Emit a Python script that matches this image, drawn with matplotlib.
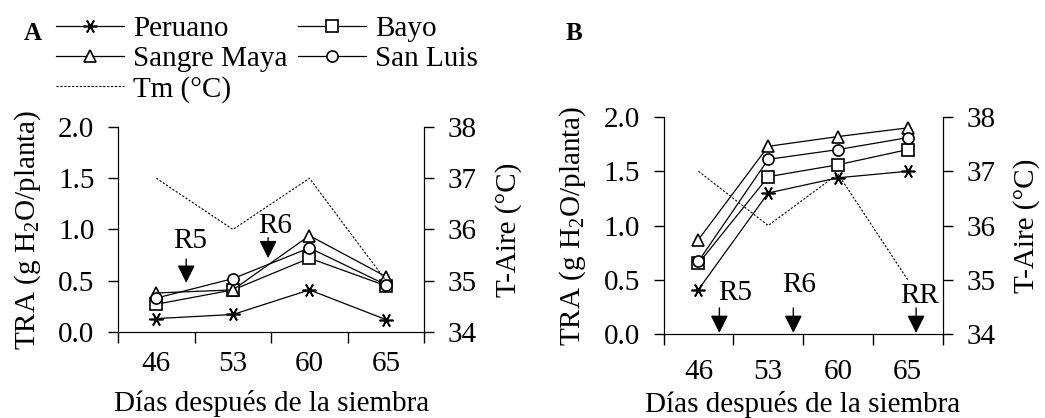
import numpy as np
import matplotlib
matplotlib.use('Agg')
import matplotlib.pyplot as plt
from matplotlib.lines import Line2D

plt.rcParams['font.family'] = ['Liberation Serif', 'DejaVu Serif']
plt.rcParams['mathtext.fontset'] = 'custom'
plt.rcParams['mathtext.rm'] = 'Liberation Serif'

# Datos
dias = ['46', '53', '60', '65']
variedades = ['Peruano', 'Bayo', 'Sangre Maya', 'San Luis']
marcadores = {'Peruano': (6, 2, 90), 'Bayo': 's', 'Sangre Maya': '^', 'San Luis': 'o'}

tra_a = {
    'Peruano': [0.13, 0.17, 0.41, 0.12],
    'Bayo': [0.27, 0.41, 0.72, 0.45],
    'Sangre Maya': [0.38, 0.41, 0.94, 0.54],
    'San Luis': [0.33, 0.52, 0.82, 0.46],
}
tm_a = [37.0, 36.0, 37.0, 35.0]

tra_b = {
    'Peruano': [0.41, 1.30, 1.44, 1.50],
    'Bayo': [0.65, 1.45, 1.56, 1.70],
    'Sangre Maya': [0.87, 1.73, 1.82, 1.90],
    'San Luis': [0.67, 1.61, 1.70, 1.81],
}
tm_b = [37.0, 36.0, 36.95, 35.0]

# etapas fenológicas: (nombre, x flecha, punta, cola, x texto, y texto)
etapas_a = [('R5', 0.89, 0.48, 0.71, 0.94, 0.76), ('R6', 1.96, 0.72, 0.92, 2.05, 0.91)]
etapas_b = [('R5', 0.80, 0.01, 0.24, 1.02, 0.26), ('R6', 1.86, 0.01, 0.24, 1.95, 0.33),
            ('RR', 3.62, 0.01, 0.24, 3.67, 0.23)]

FS = 21
xs = np.arange(len(dias)) + 0.5


def dibujar_panel(ax, tra, tm, etapas, pad_x, pad_lbl):
    for v in variedades:
        ax.plot(xs, tra[v], color='black', lw=0.9, marker=marcadores[v],
                ms=8 if v != 'Peruano' else 10, mfc='white', mec='black', mew=1.2, zorder=3)
    ax.set_xlim(0, 4)
    ax.set_ylim(0, 2)
    ax.set_yticks([0, 0.5, 1.0, 1.5, 2.0])
    ax.set_yticklabels(['0.0', '0.5', '1.0', '1.5', '2.0'])
    ax.set_xticks([0, 1, 2, 3, 4])
    ax.set_xticklabels([])
    ax.set_xticks(xs, minor=True)
    ax.set_xticklabels(dias, minor=True)
    ax.tick_params(axis='x', which='minor', length=0, pad=pad_x, labelsize=FS)
    ax.tick_params(axis='x', which='major', length=8, width=1, direction='out')
    ax.tick_params(axis='y', length=7, width=1, pad=10, labelsize=FS)
    ax.spines['top'].set_visible(False)
    ax.set_ylabel('TRA (g H$_2$O/planta)', fontsize=FS, labelpad=11)
    ax.set_xlabel('Días después de la siembra', fontsize=FS, labelpad=pad_lbl)

    ax2 = ax.twinx()
    ax2.plot(xs, tm, color='black', lw=0.8, ls=(0, (2, 1.5)), zorder=2)
    ax2.set_ylim(34, 38)
    ax2.set_yticks([34, 35, 36, 37, 38])
    ax2.tick_params(axis='y', length=7, width=1, pad=10, labelsize=FS)
    ax2.spines['top'].set_visible(False)
    ax2.set_ylabel('T-Aire (°C)', fontsize=FS, labelpad=13)

    for nombre, x, punta, cola, xtxt, ytxt in etapas:
        ax.annotate('', xy=(x, punta), xytext=(x, cola),
                    arrowprops=dict(arrowstyle='-|>', color='black', lw=1, mutation_scale=27,
                                    shrinkA=0, shrinkB=0), zorder=4)
        ax.text(xtxt, ytxt, nombre, ha='center', va='bottom', fontsize=FS)
    return ax2


fig = plt.figure(figsize=(10.45, 4.18), dpi=100)
ax_a = fig.add_axes([0.113, 0.206, 0.293, 0.490])
ax_b = fig.add_axes([0.635, 0.201, 0.267, 0.519])

dibujar_panel(ax_a, tra_a, tm_a, etapas_a, 14, 9)
dibujar_panel(ax_b, tra_b, tm_b, etapas_b, 18, 4)

fig.text(0.031, 0.92, 'A', fontsize=18, fontweight='bold', ha='center', va='center')
fig.text(0.549, 0.92, 'B', fontsize=18, fontweight='bold', ha='center', va='center')

# leyenda
handles = []
etiquetas = []
for v in ['Peruano', 'Sangre Maya']:
    handles.append(Line2D([], [], color='black', lw=0.9, marker=marcadores[v],
                          ms=8 if v != 'Peruano' else 10, mfc='white', mec='black', mew=1.2))
    etiquetas.append(v)
handles.append(Line2D([], [], color='black', lw=0.8, ls=(0, (2, 1.5))))
etiquetas.append('Tm (°C)')
for v in ['Bayo', 'San Luis']:
    handles.append(Line2D([], [], color='black', lw=0.9, marker=marcadores[v],
                          ms=8, mfc='white', mec='black', mew=1.2))
    etiquetas.append(v)

fig.legend(handles, etiquetas, ncol=2, loc='upper left', bbox_to_anchor=(0.034, 1.011),
           frameon=False, fontsize=FS, handlelength=2.35, handletextpad=0.3,
           columnspacing=0.35, labelspacing=0.12, borderpad=0.2)

fig.savefig('out.png', dpi=100)
